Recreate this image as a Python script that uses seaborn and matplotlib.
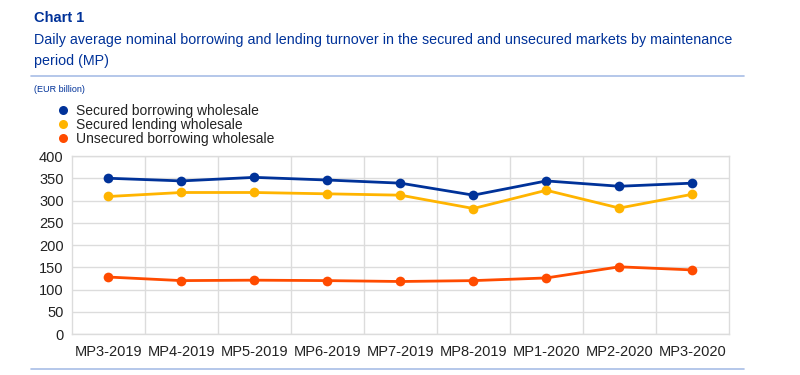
import numpy as np
import pandas as pd
import matplotlib
matplotlib.use("Agg")
import matplotlib.pyplot as plt
from matplotlib.lines import Line2D
import seaborn as sns

periods = ["MP3-2019", "MP4-2019", "MP5-2019", "MP6-2019", "MP7-2019",
           "MP8-2019", "MP1-2020", "MP2-2020", "MP3-2020"]
secured_borrowing = [350, 344, 352, 346, 339, 312, 344, 332, 339]
secured_lending = [309, 318, 318, 315, 312, 282, 323, 283, 314]
unsecured_borrowing = [128, 120, 121, 120, 118, 120, 126, 151, 144]
series_names = ["Secured borrowing wholesale", "Secured lending wholesale",
                "Unsecured borrowing wholesale"]
colors = ["#003299", "#ffb400", "#ff4b00"]

rows = []
for name, vals in zip(series_names, [secured_borrowing, secured_lending, unsecured_borrowing]):
    for i, (p, v) in enumerate(zip(periods, vals)):
        rows.append({"pos": i, "period": p, "series": name, "value": v})
df = pd.DataFrame(rows)

sns.set_theme(style="white")
plt.rcParams["font.family"] = ["Liberation Sans", "DejaVu Sans"]

fig = plt.figure(figsize=(8, 3.75), dpi=100)
ax = fig.add_axes([0.09, 0.1093, 0.821, 0.4747])

sns.lineplot(data=df, x="pos", y="value", hue="series", hue_order=series_names,
             palette=colors, marker="o", markersize=7, markeredgewidth=0,
             linewidth=2, ax=ax, legend=False)

ax.set_xlim(-0.5, len(periods) - 0.5)
ax.set_ylim(0, 400)
ax.set_yticks(np.arange(0, 401, 50))
ax.set_xticks(range(len(periods)))
ax.set_xticklabels(periods)
ax.set_xticks(np.arange(0.5, len(periods) - 0.5, 1), minor=True)
ax.grid(False)
ax.grid(True, which="minor", axis="x", color="#dcdcdc", linewidth=1)
ax.grid(True, which="major", axis="y", color="#dcdcdc", linewidth=1)
ax.set_axisbelow(True)
for s in ax.spines.values():
    s.set_color("#dcdcdc")
    s.set_linewidth(1)
ax.tick_params(axis="both", which="both", length=0, labelsize=10.5, colors="#222222")
ax.tick_params(axis="x", pad=8)
ax.tick_params(axis="y", pad=6)
ax.set_xlabel("")
ax.set_ylabel("")

# Titles
fig.text(34 / 800, 1 - 18 / 375, "Chart 1", fontsize=10.5, fontweight="bold",
         color="#003299", va="center", ha="left")
fig.text(34 / 800, 1 - 40 / 375,
         "Daily average nominal borrowing and lending turnover in the secured and unsecured markets by maintenance",
         fontsize=10.25, color="#003299", va="center", ha="left")
fig.text(34 / 800, 1 - 61 / 375, "period (MP)", fontsize=10.25, color="#003299",
         va="center", ha="left")
fig.add_artist(Line2D([31 / 800, 744 / 800], [1 - 76 / 375, 1 - 76 / 375],
                      color="#a8bde6", linewidth=1.2, transform=fig.transFigure))
fig.text(34 / 800, 1 - 90 / 375, "(EUR billion)", fontsize=6.5, color="#003299",
         va="center", ha="left")
fig.add_artist(Line2D([31 / 800, 744 / 800], [1 - 369 / 375, 1 - 369 / 375],
                      color="#a8bde6", linewidth=1.2, transform=fig.transFigure))

handles = [Line2D([], [], linestyle="none", marker="o", markersize=6.5,
                  markeredgewidth=0, color=c) for c in colors]
fig.legend(handles, series_names, loc="upper left",
           bbox_to_anchor=(57 / 800, 1 - 104 / 375), frameon=False,
           fontsize=10, labelspacing=0.0, handlelength=0.8,
           handletextpad=0.55, borderpad=0, borderaxespad=0,
           labelcolor="#222222")

fig.savefig("out.png", dpi=100)
